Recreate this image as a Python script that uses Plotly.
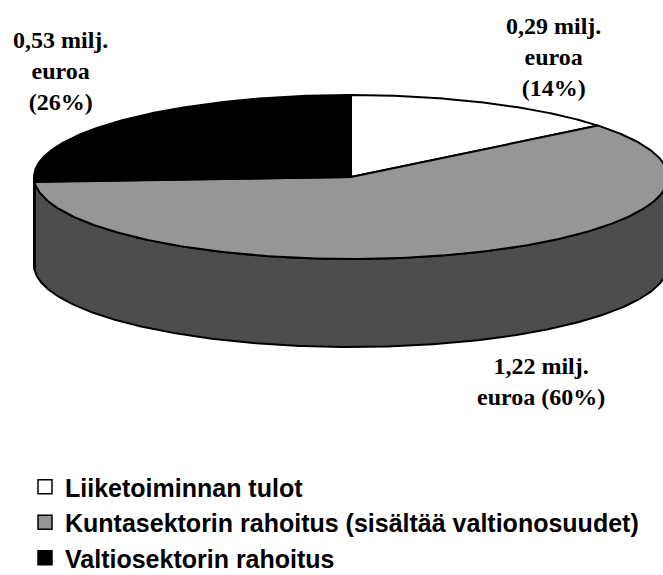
import numpy as np
import plotly.graph_objects as go

# ---- data ----
categories = ["Liiketoiminnan tulot",
              "Kuntasektorin rahoitus (sisältää valtionosuudet)",
              "Valtiosektorin rahoitus"]
values = [0.29, 1.22, 0.53]          # milj. euroa
pct_labels = ["14%", "60%", "26%"]
value_labels = ["0,29", "1,22", "0,53"]

# ---- style / geometry ----
top_colors = ["#ffffff", "#969696", "#000000"]
side_colors = ["#bdbdbd", "#4d4d4d", "#000000"]
W, H = 663, 575
CX, CY, RX, RY, DEPTH = 351, 177, 317, 82, 88
START = 90.0  # degrees, slices go clockwise

fig = go.Figure()

total = sum(values)
bounds = []
a = START
for v in values:
    sweep = 360.0 * v / total
    bounds.append((a, a - sweep))
    a -= sweep


def pt(theta_deg, dz=0.0):
    t = np.radians(theta_deg)
    return CX + RX * np.cos(t), CY - RY * np.sin(t) + dz


# side walls (only the front part, where sin < 0)
for (a0, a1), col in zip(bounds, side_colors):
    th = np.linspace(a0, a1, 400)
    front = np.sin(np.radians(th)) <= 1e-9
    runs, cur = [], []
    for t, f in zip(th, front):
        if f:
            cur.append(t)
        elif cur:
            runs.append(cur)
            cur = []
    if cur:
        runs.append(cur)
    for r in runs:
        r = np.array(r)
        xt, yt = pt(r)
        xb, yb = pt(r[::-1], DEPTH)
        xs = np.concatenate([xt, xb, xt[:1]])
        ys = np.concatenate([yt, yb, yt[:1]])
        fig.add_trace(go.Scatter(x=xs, y=ys, mode="lines", fill="toself",
                                 fillcolor=col, line=dict(color="black", width=2),
                                 showlegend=False, hoverinfo="skip"))

# top faces
for (a0, a1), col, name, v in zip(bounds, top_colors, categories, values):
    th = np.linspace(a0, a1, 300)
    xa, ya = pt(th)
    xs = np.concatenate([[CX], xa, [CX]])
    ys = np.concatenate([[CY], ya, [CY]])
    fig.add_trace(go.Scatter(x=xs, y=ys, mode="lines", fill="toself",
                             fillcolor=col, line=dict(color="black", width=2),
                             showlegend=False, name=name,
                             hovertemplate=f"{name}: {v} milj. euroa<extra></extra>"))

# legend entries
for name, col in zip(categories, top_colors):
    fig.add_trace(go.Scatter(x=[None], y=[None], mode="markers", name=name,
                             marker=dict(symbol="square", size=14, color=col,
                                         line=dict(color="black", width=1.5))))

# data labels
texts = [f"{value_labels[0]} milj.<br>euroa<br>({pct_labels[0]})",
         f"{value_labels[1]} milj.<br>euroa ({pct_labels[1]})",
         f"{value_labels[2]} milj.<br>euroa<br>({pct_labels[2]})"]
label_pos = [(553, 57), (541, 381), (60, 71)]
for (x, y), t in zip(label_pos, texts):
    fig.add_annotation(x=x / W, y=1 - y / H, xref="paper", yref="paper",
                       text=f"<b>{t}</b>", showarrow=False,
                       xanchor="center", yanchor="middle", align="center",
                       font=dict(family="Liberation Serif", size=24, color="black"))

fig.update_layout(
    width=W, height=H, autosize=False,
    margin=dict(l=0, r=0, t=0, b=0, autoexpand=False),
    paper_bgcolor="white", plot_bgcolor="white",
    xaxis=dict(range=[0, W], visible=False, fixedrange=True),
    yaxis=dict(range=[H, 0], visible=False, fixedrange=True),
    showlegend=True,
    legend=dict(x=25 / W, y=1 - 464 / H, xanchor="left", yanchor="top",
                font=dict(family="Liberation Sans", size=25, color="black", weight="bold"),
                bgcolor="rgba(0,0,0,0)", itemsizing="trace", tracegroupgap=0),
)

fig.write_html("out.html", config={"displayModeBar": False},
               post_script="document.body.style.margin='0px';document.body.style.overflow='hidden';")
